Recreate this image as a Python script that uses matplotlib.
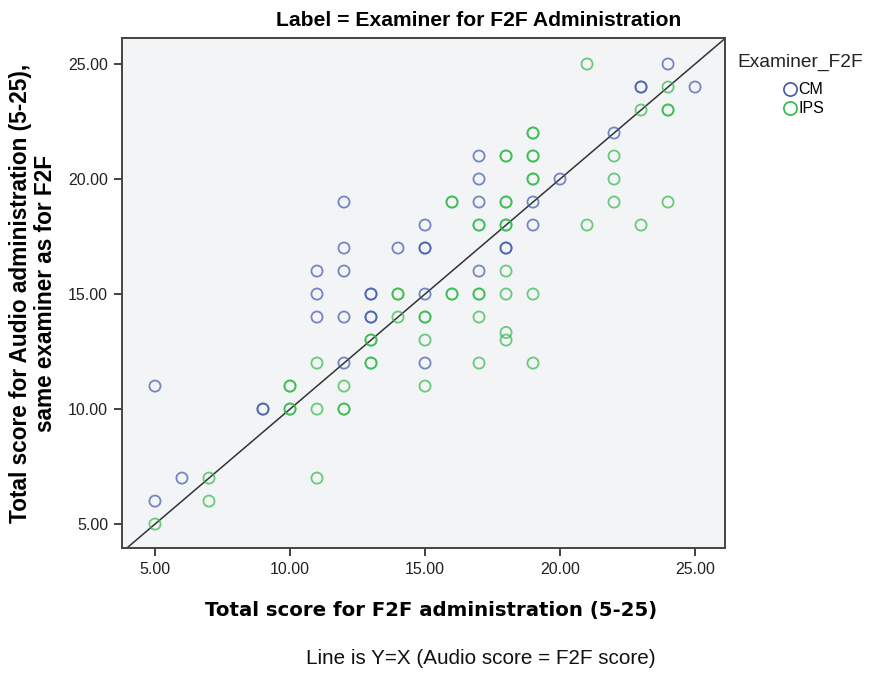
import matplotlib
matplotlib.use("Agg")
import matplotlib.pyplot as plt
from matplotlib.lines import Line2D

plt.rcParams['font.family'] = ['Liberation Sans', 'DejaVu Sans']

# F2F score (x) vs audio score (y); repeated pairs are overlapping cases
cm_x = [5, 5, 6, 9, 9, 11, 11, 11, 12, 12, 12, 12, 12, 13, 13, 13, 13, 14,
        15, 15, 15, 15, 15, 17, 17, 17, 17, 18, 18, 19, 19, 20, 22, 23, 23, 24, 25]
cm_y = [11, 6, 7, 10, 10, 16, 15, 14, 19, 17, 16, 14, 12, 15, 15, 14, 14, 17,
        18, 17, 17, 15, 12, 21, 20, 19, 16, 17, 17, 19, 18, 20, 22, 24, 24, 25, 24]

ips_x = [5, 7, 7, 10, 10, 10, 10, 11, 11, 11, 12, 12, 12, 13, 13, 13, 13,
         14, 14, 14, 15, 15, 15, 15, 16, 16, 16, 16,
         17, 17, 17, 17, 17, 17,
         18, 18, 18, 18, 18, 18, 18, 18, 18, 18,
         19, 19, 19, 19, 19, 19, 19, 19,
         21, 21, 22, 22, 22, 23, 23, 24, 24, 24, 24]
ips_y = [5, 7, 6, 11, 11, 10, 10, 12, 10, 7, 11, 10, 10, 13, 13, 12, 12,
         15, 15, 14, 14, 14, 13, 11, 19, 19, 15, 15,
         18, 18, 15, 15, 14, 12,
         21, 21, 19, 19, 18, 18, 16, 15, 13.33, 13,
         22, 22, 21, 21, 20, 20, 15, 12,
         25, 18, 21, 20, 19, 23, 18, 24, 23, 23, 19]

groups = ['CM', 'IPS']
colours = ['#3E58AC', '#2EB848']
ticks = [5, 10, 15, 20, 25]

fig = plt.figure(figsize=(8.71, 6.73), dpi=100)
ax = fig.add_axes([0.1401, 0.1857, 0.6923, 0.7578])
ax.set_facecolor('#f3f4f6')

ax.scatter(cm_x, cm_y, s=64, facecolors='none', edgecolors=colours[0],
           linewidths=1.3, alpha=0.7, zorder=3)
ax.scatter(ips_x, ips_y, s=64, facecolors='none', edgecolors=colours[1],
           linewidths=1.3, alpha=0.7, zorder=3)

# reference line y = x
ax.plot([0, 30], [0, 30], color='#333333', linewidth=1.1, zorder=2)

ax.set_xlim(3.78, 26.11)
ax.set_ylim(3.96, 26.13)
ax.set_xticks(ticks)
ax.set_yticks(ticks)
ax.set_xticklabels([f'{t:.2f}' for t in ticks])
ax.set_yticklabels([f'{t:.2f}' for t in ticks])
ax.tick_params(direction='out', length=6, width=1.3, color='#333333',
               labelsize=11.5, labelcolor='#222222', pad=4)
for sp in ax.spines.values():
    sp.set_color('#444444')
    sp.set_linewidth(1.4)

ax.set_xlabel('Total score for F2F administration (5-25)', fontsize=14.2,
              fontweight='bold', family=['DejaVu Sans'])
ax.xaxis.set_label_coords(0.512, -0.103)
ax.set_ylabel('Total score for Audio administration (5-25),\nsame examiner as for F2F',
              fontsize=16.3, fontweight='bold', labelpad=8, linespacing=1.12)

fig.text(0.549, 0.970, 'Label = Examiner for F2F Administration', ha='center',
         va='center', fontsize=15.2, fontweight='bold')
fig.text(0.552, 0.022, 'Line is Y=X (Audio score = F2F score)', ha='center',
         va='center', fontsize=14.9, color='#111111')

# legend: title on its own, entries indented underneath
fig.text(0.847, 0.908, 'Examiner_F2F', ha='left', va='center', fontsize=13.8,
         color='#222222')
handles = [Line2D([], [], marker='o', linestyle='none', markerfacecolor='none',
                  markeredgecolor=c, markersize=9.5, markeredgewidth=1.2)
           for c in colours]
fig.legend(handles, groups, loc='upper left', bbox_to_anchor=(0.899, 0.878),
           frameon=False, fontsize=11.5, handletextpad=0.05, labelspacing=0.25,
           handlelength=0.9, borderpad=0, borderaxespad=0)

fig.savefig('out.png', dpi=100)
